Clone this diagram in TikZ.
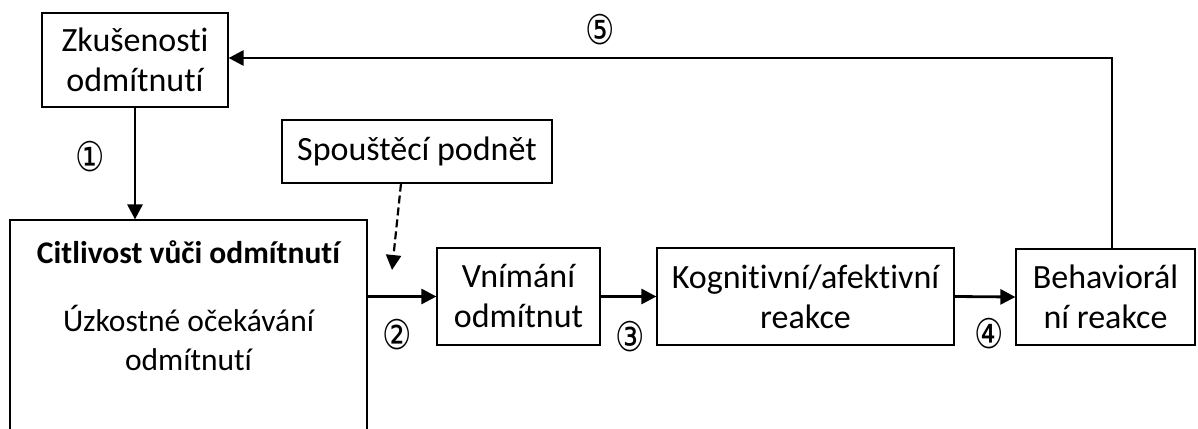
\documentclass[tikz,border=0pt]{standalone}
\usepackage{fontspec}
\setmainfont{Carlito}[Ligatures=NoCommon]
\newfontfamily\numfont{DejaVu Sans}
\usetikzlibrary{arrows.meta}
\begin{document}
\begin{tikzpicture}[x=1pt,y=-1pt,
  every node/.style={font=\fontsize{34}{40}\selectfont},
  inner/.style={font=\fontsize{31.5}{39}\selectfont},
  box/.style={draw=black,line width=1.2pt,rectangle,inner sep=0pt,align=center},
  flow/.style={line width=2.8pt,-{Triangle[length=15pt,width=15pt]}},
  trigger/.style={line width=2.2pt,dash pattern=on 8pt off 4pt,-{Triangle[length=15pt,width=15pt]}},
  num/.style={font=\numfont\fontsize{41}{44}\selectfont,inner sep=0pt}]
\useasboundingbox (0,0) rectangle (1198,428);

% boxes
\node[box,minimum width=186pt,minimum height=94pt] (zk) at (135,60) {Zkušenosti\\odmítnutí};
\node[box,minimum width=270pt,minimum height=63pt] (sp) at (417,151.5) {Spouštěcí podnět};
\node[box,minimum width=163pt,minimum height=97pt] (vn) at (518.5,296.5) {Vnímání\\odmítnut};
\node[box,minimum width=297pt,minimum height=97pt] (kog) at (805.5,296.5) {Kognitivní/afektivní\\reakce};
\node[box,minimum width=179pt,minimum height=96pt] (beh) at (1105.5,297) {Behaviorál\\ní reakce};

% sensitivity box, running past the lower edge
\begin{scope}
\clip (0,0) rectangle (1198,428);
\node[box,minimum width=357pt,minimum height=260pt] (cit) at (188.5,350) {};
\end{scope}
\node[inner] (citT) at (188.5,252) {\bfseries Citlivost vůči odmítnutí};
\node[inner,align=center] (citB) at (188.5,338) {Úzkostné očekávání\\odmítnutí};

% connectors
\draw[flow] (zk.south) -- (zk.south |- cit.north);
\draw[flow] (vn.west -| cit.east) -- (vn.west);
\draw[flow] (vn.east) -- (kog.west);
\draw[flow] (kog.east) -- (beh.west);
\draw[flow] ([xshift=6.5pt]beh.north) |- ([yshift=2pt]zk.east);
\coordinate (trig) at (392,270);
\draw[trigger] ([xshift=-16pt]sp.south) -- (trig);

% step numbers
\node[num] (n1) at (90,157) {\scalebox{0.8}[1]{①}};
\node[num] (n2) at (397,335) {\scalebox{0.8}[1]{②}};
\node[num] (n3) at (630,337) {\scalebox{0.8}[1]{③}};
\node[num] (n4) at (989,334) {\scalebox{0.8}[1]{④}};
\node[num] (n5) at (600,30) {\scalebox{0.8}[1]{⑤}};
\end{tikzpicture}
\end{document}
